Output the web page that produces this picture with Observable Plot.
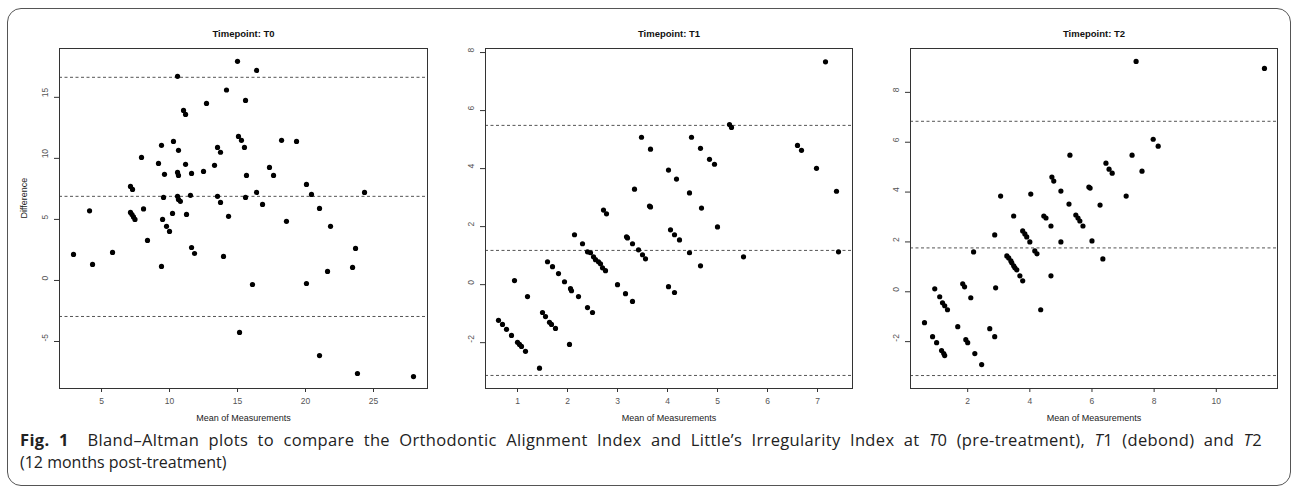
<!DOCTYPE html>
<html><head><meta charset="utf-8">
<script src="https://cdn.jsdelivr.net/npm/d3@7"></script>
<script src="https://cdn.jsdelivr.net/npm/@observablehq/plot@0.6"></script>
<style>
html,body{margin:0;padding:0;background:#fff;}
#wrap{position:relative;width:1292px;height:490px;overflow:hidden;background:#fff;}
#box{position:absolute;left:7px;top:8px;width:1284px;height:478px;border:1.5px solid #555;border-radius:14px;box-sizing:border-box;}
.panel{position:absolute;top:0;}
#caption{position:absolute;left:20px;top:429px;width:1242px;font-family:'Open Sans','Noto Sans',sans-serif;font-size:16px;line-height:22px;color:#222;}
#cap1{display:block;font-size:16.5px;letter-spacing:0.35px;text-align:justify;text-align-last:justify;}
#cap2{display:block;}
</style>
</head><body>
<div id="wrap">
  <div id="box"></div>
  <div id="p0" class="panel" style="left:0px"></div>
  <div id="p1" class="panel" style="left:440px"></div>
  <div id="p2" class="panel" style="left:865px"></div>
  <div id="caption"><span id="cap1"><b>Fig. 1</b>&nbsp; Bland–Altman plots to compare the Orthodontic Alignment Index and Little’s Irregularity Index at <i>T</i>0 (pre-treatment), <i>T</i>1 (debond) and <i>T</i>2</span><span id="cap2">(12 months post-treatment)</span></div>
</div>
<script>
// ---- Data ----
const titles = ["Timepoint: T0", "Timepoint: T1", "Timepoint: T2"];
const xLabel = "Mean of Measurements";
const yLabel = "Difference";

const t0Mean = [2.94,4.12,4.34,5.81,7.13,7.28,7.13,7.24,7.35,7.46,7.94,8.09,8.38,9.19,9.41,9.41,9.49,9.56,9.63,9.78,10.0,10.22,10.29,10.59,10.59,10.66,10.66,10.59,10.66,10.8,11.03,11.18,11.18,11.25,11.54,11.62,11.62,11.84,12.5,12.72,13.31,13.53,13.75,13.53,13.75,13.97,14.19,14.34,15.0,15.07,15.29,15.51,15.59,15.59,15.66,15.15,16.1,16.4,16.4,16.84,17.35,17.65,18.24,18.6,19.34,20.07,20.07,20.44,21.03,21.03,21.62,21.84,23.46,23.68,23.82,24.34,27.94];
const t0Diff = [2.13,5.7,1.31,2.3,7.7,7.46,5.57,5.4,5.2,5.0,10.08,5.86,3.28,9.59,11.07,1.15,5.0,6.8,8.69,4.43,4.02,5.49,11.39,16.72,8.85,8.6,10.66,6.89,6.64,6.48,13.93,13.6,9.51,5.41,6.97,8.77,2.7,2.21,8.93,14.5,9.43,10.9,10.5,6.89,6.39,1.97,15.6,5.25,17.95,11.8,11.48,10.9,14.75,6.8,8.6,-4.26,-0.33,17.2,7.21,6.23,9.26,8.6,11.48,4.84,11.39,7.87,-0.25,7.05,5.9,-6.15,0.74,4.43,1.07,2.62,-7.62,7.21,-7.87];

const t1Mean = [0.62,0.70,0.78,0.88,1.0,1.04,1.08,1.16,0.94,1.2,1.44,1.5,1.56,1.64,1.68,1.76,1.6,1.7,1.82,1.94,2.06,2.08,2.22,2.04,2.14,2.3,2.4,2.46,2.52,2.56,2.62,2.66,2.7,2.76,2.4,2.5,2.72,2.78,3.0,3.16,3.3,3.18,3.2,3.3,3.42,3.5,3.56,3.64,3.66,3.34,3.48,3.66,4.02,4.18,4.44,4.68,4.48,4.66,4.84,4.94,4.06,4.14,4.24,4.44,4.66,4.02,4.14,5.0,5.24,5.28,5.52,6.6,6.68,6.98,7.16,7.38,7.42];
const t1Diff = [-1.23,-1.37,-1.54,-1.75,-1.99,-2.06,-2.13,-2.3,0.14,-0.41,-2.88,-0.96,-1.1,-1.3,-1.37,-1.51,0.79,0.62,0.38,0.1,-0.14,-0.21,-0.41,-2.06,1.72,1.41,1.13,1.1,0.96,0.86,0.79,0.72,0.58,0.48,-0.79,-0.96,2.57,2.44,0.0,-0.31,-0.58,1.65,1.61,1.41,1.2,1.03,0.89,2.71,2.68,3.29,5.08,4.67,3.95,3.64,3.16,2.64,5.08,4.70,4.32,4.15,1.89,1.72,1.54,1.1,0.65,-0.07,-0.27,1.99,5.52,5.42,0.96,4.8,4.63,4.01,7.68,3.22,1.13];

const t2Mean = [0.61,0.87,1.0,1.16,1.23,1.26,0.94,1.1,1.19,1.26,1.35,1.68,1.84,1.9,2.1,1.94,2.0,2.23,2.45,2.19,2.71,2.87,2.9,2.87,3.06,3.26,3.32,3.39,3.42,3.48,3.52,3.58,3.68,3.77,3.48,3.77,3.84,3.9,4.0,4.03,4.16,4.23,4.35,4.45,4.52,4.68,4.68,4.71,4.77,5.0,5.0,5.26,5.29,5.48,5.55,5.61,5.71,5.9,5.94,6.0,6.26,6.35,6.45,6.55,6.65,7.1,7.29,7.42,7.61,7.97,8.13,11.55];
const t2Diff = [-1.24,-1.8,-2.04,-2.36,-2.48,-2.56,0.12,-0.2,-0.44,-0.56,-0.72,-1.4,0.32,0.2,-0.24,-1.92,-2.04,-2.48,-2.92,1.6,-1.48,-1.8,0.16,2.28,3.84,1.44,1.36,1.24,1.16,1.04,0.96,0.88,0.64,0.44,3.04,2.44,2.32,2.2,2.0,3.92,1.64,1.52,-0.72,3.04,2.96,2.64,0.64,4.6,4.44,4.04,2.0,3.52,5.48,3.08,2.96,2.84,2.64,4.2,4.16,2.04,3.48,1.32,5.16,4.92,4.76,3.84,5.48,9.24,4.84,6.12,5.84,8.96];

// Bias and limits of agreement (lower, mean, upper)
const t0Limits = [-2.95, 6.89, 16.64];
const t1Limits = [-3.13, 1.18, 5.49];
const t2Limits = [-3.36, 1.76, 6.84];

const t0XTicks = [5, 10, 15, 20, 25];
const t0YTicks = [-5, 0, 5, 10, 15];
const t1XTicks = [1, 2, 3, 4, 5, 6, 7];
const t1YTicks = [-2, 0, 2, 4, 6, 8];
const t2XTicks = [2, 4, 6, 8, 10];
const t2YTicks = [-2, 0, 2, 4, 6, 8];

// ---- Drawing ----
function panel(id, o) {
  const pts = o.xs.map((v, i) => ({mean: v, diff: o.ys[i]}));
  const marks = [
    Plot.ruleY(o.limits, {stroke: "#555", strokeWidth: 1, strokeDasharray: "3,2.5"}),
    Plot.frame({stroke: "#333", strokeWidth: 1}),
    Plot.axisX(o.xt, {tickSize: 4, tickPadding: 5, tickFormat: d => String(d), label: null, stroke: "#333", fill: "#555"}),
    Plot.axisY(o.yt, {tickSize: 5, tickFormat: () => "", label: null, stroke: "#333"}),
    Plot.text(o.yt, {y: d => d, text: d => String(d), frameAnchor: "left", dx: -14, rotate: -90, fill: "#555"}),
    Plot.dot(pts, {x: "mean", y: "diff", r: 2.6, fill: "#000"}),
    Plot.text([o.title], {text: d => d, frameAnchor: "top", dy: -18, fontWeight: "bold", fontSize: 9.5, fill: "#111"}),
    Plot.text([xLabel], {text: d => d, frameAnchor: "bottom", dy: 32, fontSize: 9, fill: "#222"})
  ];
  if (o.ylab) marks.push(Plot.text([o.ylab], {text: d => d, frameAnchor: "left", dx: -35, rotate: -90, fontSize: 9, fill: "#222"}));
  const chart = Plot.plot({
    width: o.width, height: 430,
    marginLeft: o.ml, marginRight: o.mr, marginTop: 48, marginBottom: 42,
    x: {domain: o.xd, axis: null},
    y: {domain: o.yd, axis: null},
    style: {fontFamily: "'Liberation Sans', Arial, sans-serif", fontSize: "8.5px", background: "transparent", overflow: "visible"},
    marks
  });
  document.getElementById(id).appendChild(chart);
}

panel("p0", {title: titles[0], xs: t0Mean, ys: t0Diff, limits: t0Limits, xt: t0XTicks, yt: t0YTicks,
  width: 440, ml: 59, mr: 13, xd: [1.91, 28.97], yd: [-8.85, 19.0], ylab: yLabel});
panel("p1", {title: titles[1], xs: t1Mean, ys: t1Diff, limits: t1Limits, xt: t1XTicks, yt: t1YTicks,
  width: 425, ml: 45, mr: 13, xd: [0.36, 7.7], yd: [-3.58, 8.14]});
panel("p2", {title: titles[2], xs: t2Mean, ys: t2Diff, limits: t2Limits, xt: t2XTicks, yt: t2YTicks,
  width: 427, ml: 45, mr: 15, xd: [0.16, 11.97], yd: [-3.88, 9.76]});
</script>
</body></html>
